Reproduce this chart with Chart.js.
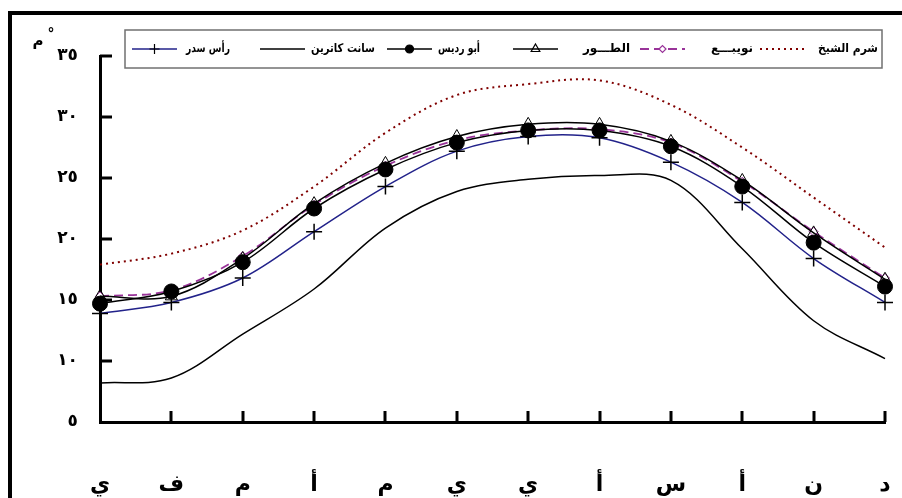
<!DOCTYPE html>
<html>
<head>
<meta charset="utf-8">
<script src="https://cdn.jsdelivr.net/npm/chart.js@4"></script>
<style>
  body { margin: 0; background: #fff; overflow: hidden; }
  #wrap { position: relative; width: 902px; height: 498px; overflow: hidden; }
  #frame { position: absolute; left: 8px; top: 11px; width: 1000px; height: 1000px; border: 4px solid #000; }
  canvas { position: absolute; left: 0; top: 0; }
</style>
</head>
<body>
<div id="wrap">
  <div id="frame"></div>
  <canvas id="tempChart" width="902" height="498"></canvas>
</div>
<script>
// Months (Jan .. Dec), Arabic initials
const months = ['ي', 'ف', 'م', 'أ', 'م', 'ي', 'ي', 'أ', 'س', 'أ', 'ن', 'د'];

// y axis ticks and their Arabic labels
const yTickValues = [5, 10, 15, 20, 25, 30, 35];
const yTickLabels = ['٥', '١٠', '١٥', '٢٠', '٢٥', '٣٠', '٣٥'];

// Station names
const stationNames = ['شرم الشيخ', 'نويبـــع', 'الطـــور', 'أبو رديس', 'سانت كاترين', 'رأس سدر'];

// Mean monthly temperature (°C) per station
const sharm       = [17.9, 18.8, 20.7, 24.3, 28.7, 31.8, 32.7, 33.0, 31.0, 27.5, 23.4, 19.3];
const nuweiba     = [15.3, 15.8, 18.6, 22.8, 26.0, 28.1, 28.9, 29.0, 27.9, 24.7, 20.6, 16.8];
const tor         = [15.3, 15.3, 18.4, 22.9, 26.2, 28.4, 29.4, 29.4, 28.0, 24.8, 20.5, 16.7];
const abuRudeis   = [14.7, 15.7, 18.1, 22.5, 25.7, 27.9, 28.9, 28.9, 27.6, 24.3, 19.7, 16.1];
const stCatherine = [8.2, 8.6, 12.2, 15.9, 20.9, 23.9, 24.9, 25.2, 24.8, 19.2, 13.3, 10.2];
const rasSudr     = [13.9, 14.8, 16.8, 20.6, 24.3, 27.2, 28.4, 28.3, 26.3, 23.0, 18.4, 14.8];

const arFont = "'DejaVu Sans', 'Liberation Serif', serif";

// Legend layout (right to left)
const legendTextRight = [878, 753, 630, 480, 375, 230];
const legendTextWidth = [60, 52, 56, 42, 64, 44];
const legendSampleLeft = [760, 640, 513, 387, 260, 132];
const legendSampleWidth = 45;
const legendMarkerRadius = [0, 3.5, 5, 4, 0, 5];

// inward tick marks on both axes + unit label
const innerTicks = {
    id: 'innerTicks',
    afterDatasetsDraw(chart) {
        const ctx = chart.ctx;
        const area = chart.chartArea;
        const x = chart.scales.x;
        const y = chart.scales.y;
        ctx.save();
        ctx.strokeStyle = '#000';
        ctx.lineWidth = 3;
        ctx.beginPath();
        yTickValues.forEach(v => {
            if (v === y.min) return;
            const py = Math.round(y.getPixelForValue(v));
            ctx.moveTo(area.left, py);
            ctx.lineTo(area.left + 12, py);
        });
        months.forEach((m, i) => {
            if (i === 0) return;
            const px = Math.round(x.getPixelForValue(i));
            ctx.moveTo(px, area.bottom);
            ctx.lineTo(px, area.bottom - 11);
        });
        ctx.stroke();

        ctx.fillStyle = '#000';
        ctx.font = 'bold 15px ' + arFont;
        ctx.textAlign = 'center';
        ctx.textBaseline = 'middle';
        ctx.fillText('م', 38, 42);
        ctx.font = 'bold 14px ' + arFont;
        ctx.fillText('°', 51, 34);
        ctx.restore();
    }
};

// boxed legend drawn from the datasets
const boxLegend = {
    id: 'boxLegend',
    afterDraw(chart) {
        const ctx = chart.ctx;
        const top = 30, bottom = 68, left = 125, right = 882;
        const midY = (top + bottom) / 2;
        ctx.save();
        ctx.fillStyle = '#fff';
        ctx.fillRect(left, top, right - left, bottom - top);
        ctx.strokeStyle = '#707070';
        ctx.lineWidth = 1.5;
        ctx.strokeRect(left, top, right - left, bottom - top);

        chart.data.datasets.forEach((ds, i) => {
            const sx = legendSampleLeft[i];
            ctx.save();
            ctx.strokeStyle = ds.borderColor;
            ctx.lineWidth = ds.borderWidth;
            ctx.setLineDash(ds.borderDash || []);
            ctx.beginPath();
            ctx.moveTo(sx, midY);
            ctx.lineTo(sx + legendSampleWidth, midY);
            ctx.stroke();
            ctx.restore();

            if (legendMarkerRadius[i] > 0) {
                ctx.save();
                ctx.fillStyle = ds.pointBackgroundColor;
                ctx.strokeStyle = ds.pointBorderColor;
                ctx.lineWidth = 1.2;
                Chart.helpers.drawPoint(ctx, {
                    pointStyle: ds.pointStyle,
                    radius: legendMarkerRadius[i],
                    rotation: 0,
                    borderWidth: 1.2
                }, sx + legendSampleWidth / 2, midY);
                ctx.restore();
            }

            ctx.fillStyle = '#000';
            ctx.font = 'bold 12px ' + arFont;
            ctx.direction = 'rtl';
            ctx.textAlign = 'right';
            ctx.textBaseline = 'middle';
            ctx.fillText(ds.label, legendTextRight[i], midY, legendTextWidth[i]);
        });
        ctx.restore();
    }
};

const ctx = document.getElementById('tempChart').getContext('2d');
const tempChart = new Chart(ctx, {
    type: 'line',
    data: {
        labels: months,
        datasets: [{
            label: stationNames[0],
            data: sharm,
            borderColor: '#800000',
            borderWidth: 2,
            borderDash: [2, 4],
            pointRadius: 0,
            pointStyle: 'circle',
            order: 5
        }, {
            label: stationNames[1],
            data: nuweiba,
            borderColor: '#993399',
            borderWidth: 1.8,
            borderDash: [9, 5],
            pointStyle: 'rectRot',
            pointRadius: 4.5,
            pointBackgroundColor: '#fff',
            pointBorderColor: '#993399',
            pointBorderWidth: 1,
            order: 3
        }, {
            label: stationNames[2],
            data: tor,
            borderColor: '#000',
            borderWidth: 1.5,
            pointStyle: 'triangle',
            pointRadius: 7,
            pointBackgroundColor: 'rgba(255,255,255,0)',
            pointBorderColor: '#000',
            pointBorderWidth: 1,
            order: 2
        }, {
            label: stationNames[3],
            data: abuRudeis,
            borderColor: '#000',
            borderWidth: 1.5,
            pointStyle: 'circle',
            pointRadius: 7.5,
            pointBackgroundColor: '#000',
            pointBorderColor: '#000',
            pointBorderWidth: 1,
            order: 0
        }, {
            label: stationNames[4],
            data: stCatherine,
            borderColor: '#000',
            borderWidth: 1.5,
            pointRadius: 0,
            pointStyle: 'circle',
            order: 4
        }, {
            label: stationNames[5],
            data: rasSudr,
            borderColor: '#22228a',
            borderWidth: 1.5,
            pointStyle: 'cross',
            pointRadius: 8,
            pointBackgroundColor: '#000',
            pointBorderColor: '#000',
            pointBorderWidth: 1.5,
            order: 1
        }]
    },
    options: {
        responsive: false,
        devicePixelRatio: 1,
        animation: false,
        clip: false,
        layout: {
            padding: { left: 0, right: 17, top: 56, bottom: 0 }
        },
        elements: {
            line: { tension: 0.35, fill: false },
            point: { hoverRadius: 0 }
        },
        scales: {
            x: {
                type: 'category',
                offset: false,
                grid: { display: false, drawTicks: false },
                border: { display: true, color: '#000', width: 3 },
                ticks: {
                    color: '#000',
                    font: { family: arFont, size: 22, weight: 'bold' },
                    padding: 50,
                    autoSkip: false,
                    maxRotation: 0
                },
                afterFit(scale) {
                    scale.height = 76;
                    // label padding is vertical only, don't shrink the plot sideways
                    scale.paddingLeft = 0;
                    scale.paddingRight = 0;
                }
            },
            y: {
                min: 5,
                max: 35,
                grid: { display: false, drawTicks: false },
                border: { display: true, color: '#000', width: 3 },
                afterBuildTicks(scale) {
                    scale.ticks = yTickValues.map(v => ({ value: v }));
                },
                ticks: {
                    color: '#000',
                    font: { family: arFont, size: 17, weight: 'bold' },
                    padding: 22,
                    callback: function(value) {
                        return yTickLabels[yTickValues.indexOf(value)];
                    }
                },
                afterFit(scale) { scale.width = 100; }
            }
        },
        plugins: {
            legend: { display: false },
            tooltip: { enabled: false }
        }
    },
    plugins: [innerTicks, boxLegend]
});
</script>
</body>
</html>
